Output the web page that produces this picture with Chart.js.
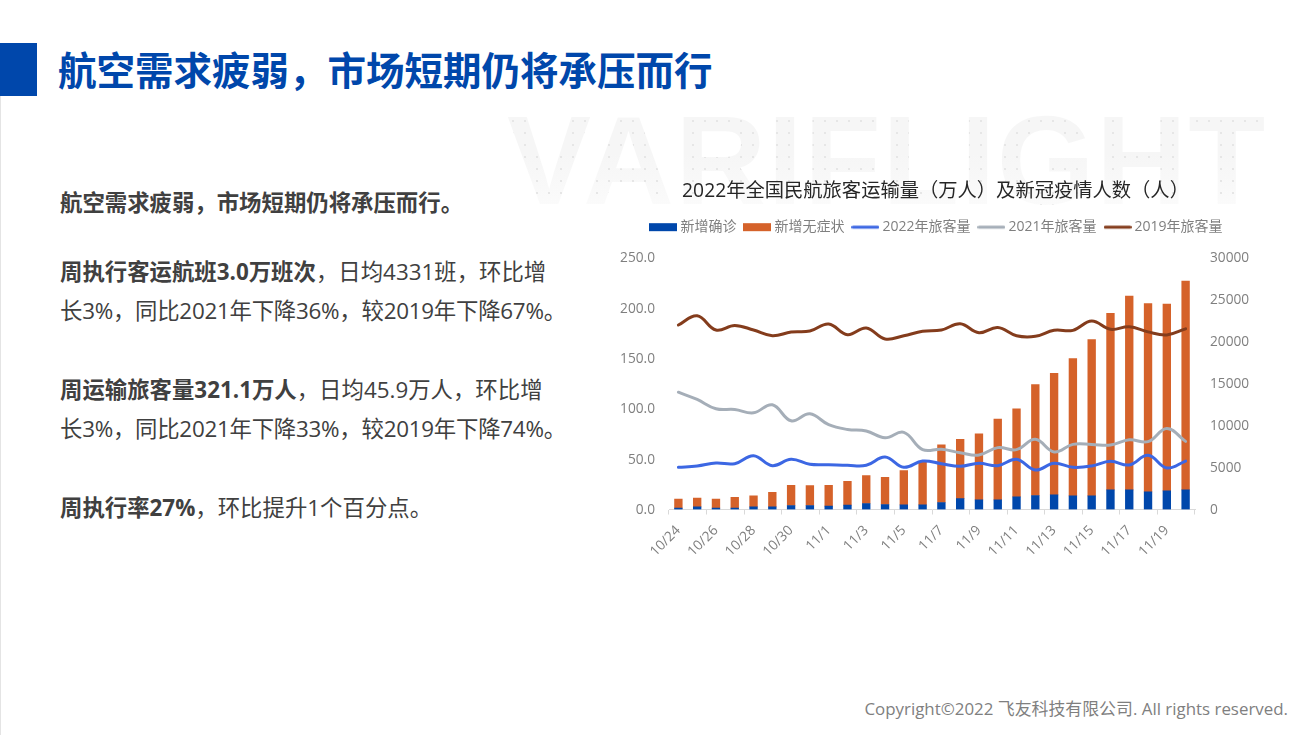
<!DOCTYPE html>
<html>
<head>
<meta charset="utf-8">
<script src="https://cdn.jsdelivr.net/npm/chart.js@4/dist/chart.umd.min.js"></script>
<style>
  html, body { margin: 0; padding: 0; background: #fff; }
  body { width: 1311px; height: 735px; position: relative; overflow: hidden; font-family: "Open Sans", "Noto Sans CJK SC", sans-serif; color: #404040; }
  .edge { position: absolute; left: 0; top: 96px; width: 1px; height: 639px; background: #e4e4e4; }
  .block { position: absolute; left: 0; top: 43px; width: 37px; height: 53px; background: #0047ab; }
  h1 { position: absolute; left: 58px; top: 42px; margin: 0; font-size: 38.5px; line-height: 56px; font-weight: 700; color: #0047ab; white-space: nowrap; }
  .watermark { position: absolute; left: 507px; top: 91px; font: 700 126px/140px "Liberation Sans", sans-serif; letter-spacing: 1.3px; white-space: nowrap;
    background: radial-gradient(circle, #e6e6e6 1px, transparent 1.2px) 0 0 / 12px 12px, linear-gradient(#f6f6f6 45%, #fbfbfb 85%, #fff 100%);
    -webkit-background-clip: text; background-clip: text; color: transparent; }
  .txt { position: absolute; left: 60px; font-size: 22.4px; line-height: 30px; white-space: nowrap; }
  .txt b { font-weight: 700; }
  .tight { letter-spacing: -0.25px; }
  .copy { position: absolute; right: 23px; top: 697px; font-size: 16.9px; line-height: 24px; color: #7f7f7f; white-space: nowrap; }
  #wrap { position: absolute; left: 610px; top: 170px; width: 640px; height: 430px; }
</style>
</head>
<body>
<div class="edge"></div>
<div class="block"></div>
<h1>航空需求疲弱，市场短期仍将承压而行</h1>
<div class="watermark">VARIFLIGHT</div>
<div class="txt" style="top:188px"><b>航空需求疲弱，市场短期仍将承压而行。</b></div>
<div class="txt" style="top:257px"><b>周执行客运航班3.0万班次</b>，日均4331班，环比增</div>
<div class="txt tight" style="top:296px">长3%，同比2021年下降36%，较2019年下降67%。</div>
<div class="txt" style="top:375px"><b>周运输旅客量321.1万人</b>，日均45.9万人，环比增</div>
<div class="txt tight" style="top:414px">长3%，同比2021年下降33%，较2019年下降74%。</div>
<div class="txt" style="top:493px"><b>周执行率27%</b>，环比提升1个百分点。</div>
<div class="copy">Copyright©2022 飞友科技有限公司. All rights reserved.</div>
<div id="wrap"><canvas id="chart" width="640" height="430"></canvas></div>

<script>
const categories = ["10/24","10/25","10/26","10/27","10/28","10/29","10/30","10/31","11/1","11/2","11/3","11/4","11/5","11/6","11/7","11/8","11/9","11/10","11/11","11/12","11/13","11/14","11/15","11/16","11/17","11/18","11/19","11/20"];
const confirmed = [160,316,160,160,316,316,474,474,395,513,711,592,553,553,830,1300,1145,1145,1500,1660,1740,1620,1620,2330,2330,2090,2210,2330];
const asymptomatic = [1065,1027,1065,1300,1304,1738,2406,2370,2485,2844,3319,3238,4067,5097,6870,7035,7855,9599,10470,13190,14460,16320,18580,20990,23050,22380,22220,24830];
const pax2022 = [41.8,43.1,46,45.4,53.3,43.4,49.7,44.8,44.4,43.8,43.8,52,41.8,48,45.4,42.8,45.8,43.4,49.7,39.1,45.8,41.8,43.1,47.7,44.1,53.7,41.1,48];
const pax2021 = [116.2,109,99.8,99.1,95.8,103.7,87.9,94.8,84,79.3,77.7,71.1,76.4,59.3,59.6,56.3,54,61.3,59.3,69.5,57,64.5,64.5,63.8,69.1,67.2,80.3,67.5];
const pax2019 = [182.8,192,177.8,182.4,177.8,172.2,175.8,176.8,183.8,173.2,179.8,169,172.2,176.5,177.8,184,175.2,180.4,172.2,171.6,177.5,177.5,186.7,178.5,181,176,173,179];

const BLUE = "#0047ab";
const ORANGE = "#d5622a";
const GREY_TEXT = "#7f7f7f";
const AXIS_LINE = "#d9d9d9";
const FONT = "'Open Sans', 'Noto Sans CJK SC', sans-serif";

// legend keys are small canvases so the gap to the text can be tighter than the default
function legendKey(color, height) {
  const c = document.createElement("canvas");
  c.width = 28;
  c.height = 10;
  const g = c.getContext("2d");
  g.fillStyle = color;
  if (height > 4) {
    g.fillRect(0, 1, 28, height);
  } else {
    g.beginPath();
    g.roundRect(0, (10 - height) / 2, 28, height, height / 2);
    g.fill();
  }
  return c;
}

function lineSet(label, data, color) {
  return {
    type: "line", label, data, yAxisID: "y", order: 1,
    borderColor: color, backgroundColor: color, borderWidth: 3,
    tension: 0.4, pointRadius: 0, borderCapStyle: "round", key: legendKey(color, 3)
  };
}

function barSet(label, data, color) {
  return {
    type: "bar", label, data, yAxisID: "y1", order: 2, stack: "cases",
    backgroundColor: color, barThickness: 7.7, key: legendKey(color, 8)
  };
}

const nudgeBlocks = {
  id: "nudgeBlocks",
  afterLayout(chart) {
    chart.legend.left += 8;
    chart.legend.right += 8;
    chart.legend.top -= 13;
    chart.legend.bottom -= 13;
    chart.titleBlock.left += 5.5;
    chart.titleBlock.right += 5.5;
    chart.titleBlock.top += 1;
    chart.titleBlock.bottom += 1;
  }
};

new Chart(document.getElementById("chart"), {
  data: {
    labels: categories,
    datasets: [
      barSet("新增确诊", confirmed, BLUE),
      barSet("新增无症状", asymptomatic, ORANGE),
      lineSet("2022年旅客量", pax2022, "#3c67e3"),
      lineSet("2021年旅客量", pax2021, "#a5aeb8"),
      lineSet("2019年旅客量", pax2019, "#843c1c")
    ]
  },
  plugins: [nudgeBlocks],
  options: {
    responsive: false,
    animation: false,
    layout: { autoPadding: false, padding: 0 },
    plugins: {
      tooltip: { enabled: false },
      title: {
        display: true,
        text: "2022年全国民航旅客运输量（万人）及新冠疫情人数（人）",
        color: "#262626",
        font: { family: FONT, size: 19.3, weight: "normal" },
        padding: { top: 9, bottom: 20 }
      },
      legend: {
        position: "top",
        labels: {
          usePointStyle: true,
          pointStyleWidth: 20,
          boxHeight: 10,
          padding: 11,
          color: GREY_TEXT,
          font: { family: FONT, size: 14 },
          generateLabels(chart) {
            return chart.data.datasets.map((d, i) => ({
              text: d.label, pointStyle: d.key, datasetIndex: i, fontColor: GREY_TEXT, lineWidth: 0
            }));
          }
        }
      }
    },
    scales: {
      x: {
        stacked: true,
        offset: true,
        afterFit(s) { s.height = 90.5; },
        border: { color: AXIS_LINE },
        grid: {
          offset: true,
          drawOnChartArea: false,
          tickLength: 5,
          tickColor: c => (c.index % 2 ? "transparent" : AXIS_LINE)
        },
        ticks: {
          autoSkip: false,
          minRotation: 45,
          maxRotation: 45,
          padding: 8,
          color: GREY_TEXT,
          font: { family: FONT, size: 13.7 },
          callback(v, i) { return i % 2 ? "" : this.getLabelForValue(v); }
        }
      },
      y: {
        position: "left",
        min: 0,
        max: 250,
        afterFit(s) { s.width = 59; },
        border: { display: false },
        grid: { display: false },
        ticks: {
          stepSize: 50,
          padding: 6,
          labelOffset: 1,
          color: GREY_TEXT,
          font: { family: FONT, size: 13.7 },
          callback: v => v.toFixed(1)
        }
      },
      y1: {
        position: "right",
        stacked: true,
        min: 0,
        max: 30000,
        afterFit(s) { s.width = 55; },
        border: { display: false },
        grid: { display: false },
        ticks: {
          stepSize: 5000,
          padding: 7,
          labelOffset: 1,
          color: GREY_TEXT,
          font: { family: FONT, size: 13.7 },
          callback: v => String(v)
        }
      }
    }
  }
});
</script>
</body>
</html>
